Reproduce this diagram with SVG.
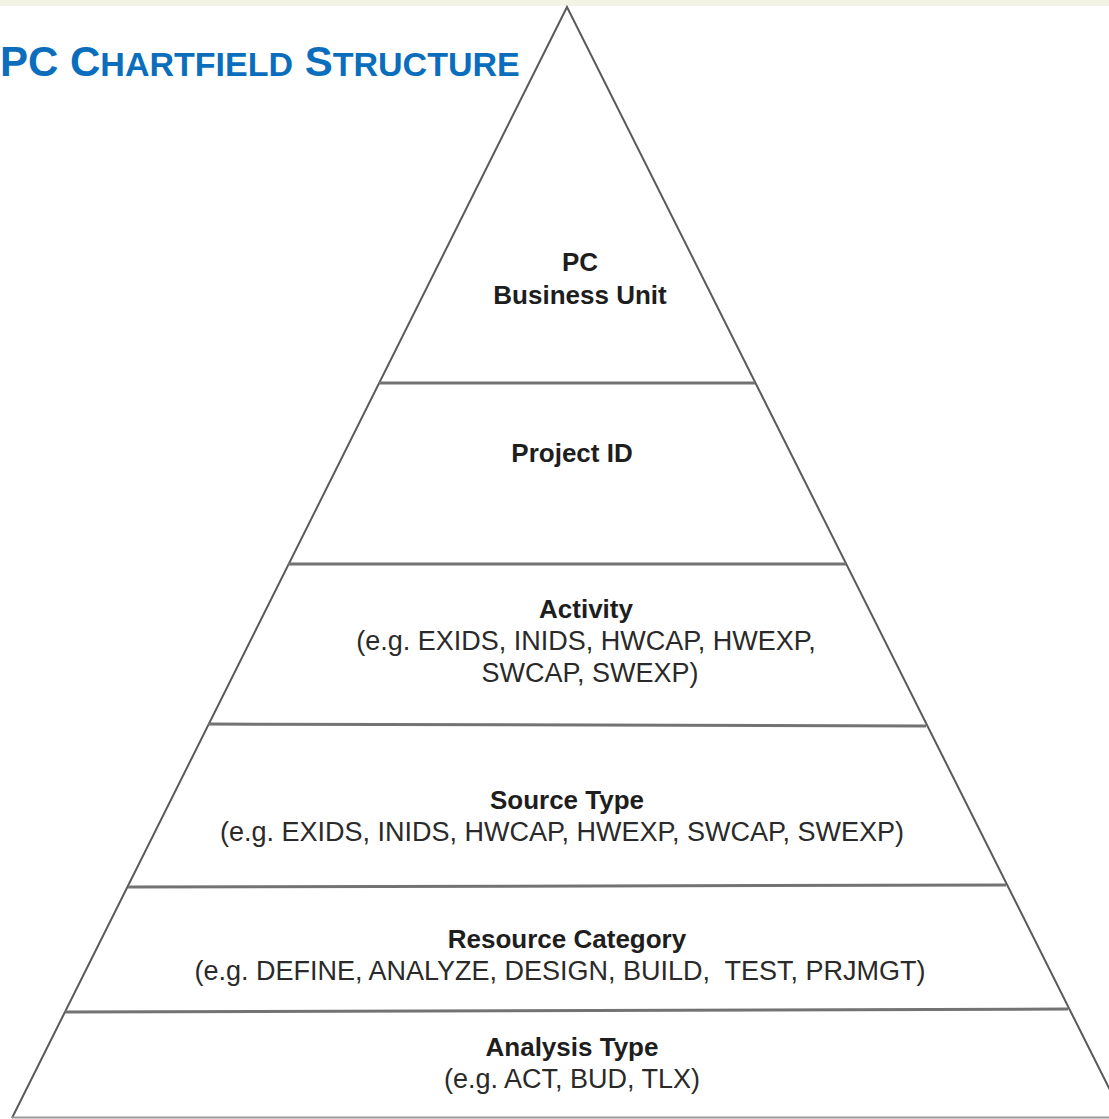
<svg xmlns="http://www.w3.org/2000/svg" width="1109" height="1119" viewBox="0 0 1109 1119">
  <style>
    .edge { fill: none; stroke: #5a5a5a; stroke-width: 2; }
    .sep { fill: none; stroke: #737373; stroke-width: 3; }
    .h { font-family: "Liberation Sans", Arial, sans-serif; font-weight: bold; font-size: 26px; fill: #1e1e1e; text-anchor: middle; }
    .t { font-family: "Liberation Sans", Arial, sans-serif; font-size: 27px; fill: #2a2a2a; text-anchor: middle; }
    .title { font-family: "Liberation Sans", Arial, sans-serif; font-weight: bold; fill: #0a6ebd; }
  </style>
  <rect x="0" y="0" width="1109" height="1119" fill="#ffffff"/>
  <rect x="0" y="0" width="1109" height="6" fill="#f4f4e6"/>

  <g id="title">
    <text class="title" x="0" y="76" font-size="42">PC C<tspan font-size="34">HARTFIELD</tspan> S<tspan font-size="34">TRUCTURE</tspan></text>
  </g>

  <g id="connectors">
    <path class="edge" d="M12,1118 L567,7 L1124,1118"/>
    <line x1="12" y1="1117.5" x2="1109" y2="1117.5" style="stroke:#9a9a9a;stroke-width:2"/>
  </g>

  <g id="layer-business-unit">
    <text class="h" x="580" y="271">PC</text>
    <text class="h" x="580" y="304">Business Unit</text>
  </g>

  <g id="layer-project-id">
    <line class="sep" x1="379" y1="383" x2="755" y2="383"/>
    <text class="h" x="572" y="462">Project ID</text>
  </g>

  <g id="layer-activity">
    <line class="sep" x1="288" y1="564" x2="846" y2="564"/>
    <text class="h" x="586" y="618">Activity</text>
    <text class="t" x="586" y="650">(e.g. EXIDS, INIDS, HWCAP, HWEXP,</text>
    <text class="t" x="590" y="682">SWCAP, SWEXP)</text>
  </g>

  <g id="layer-source-type">
    <line class="sep" x1="208" y1="724" x2="926" y2="726"/>
    <text class="h" x="567" y="809">Source Type</text>
    <text class="t" x="562" y="841">(e.g. EXIDS, INIDS, HWCAP, HWEXP, SWCAP, SWEXP)</text>
  </g>

  <g id="layer-resource-category">
    <line class="sep" x1="128" y1="887" x2="1006" y2="885"/>
    <text class="h" x="567" y="948">Resource Category</text>
    <text class="t" x="560" y="980">(e.g. DEFINE, ANALYZE, DESIGN, BUILD,&#160; TEST, PRJMGT)</text>
  </g>

  <g id="layer-analysis-type">
    <line class="sep" x1="65" y1="1012" x2="1068" y2="1009"/>
    <text class="h" x="572" y="1056">Analysis Type</text>
    <text class="t" x="572" y="1088">(e.g. ACT, BUD, TLX)</text>
  </g>
</svg>
